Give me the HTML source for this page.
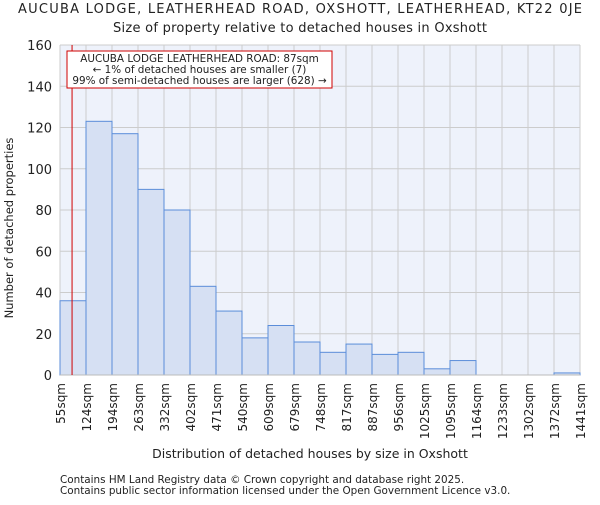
<!DOCTYPE html>
<html><head><meta charset="utf-8"><style>
body{margin:0;background:#fff;}
svg text{font-family:"DejaVu Sans","Liberation Sans",sans-serif;fill:#222;}
</style></head><body>
<svg id="chart" width="600" height="500" viewBox="0 0 600 500">
<text x="300" y="13" text-anchor="middle" font-size="13" textLength="564" lengthAdjust="spacing">AUCUBA LODGE, LEATHERHEAD ROAD, OXSHOTT, LEATHERHEAD, KT22 0JE</text>
<text x="300" y="32" text-anchor="middle" font-size="13" textLength="374" lengthAdjust="spacing">Size of property relative to detached houses in Oxshott</text>
<rect x="60" y="45" width="520" height="330" fill="#eef2fb"/>
<g id="grid"></g><g id="bars"></g><g id="axes"></g>
<text transform="translate(13,228) rotate(-90)" text-anchor="middle" font-size="11.5">Number of detached properties</text>
<text x="310" y="458" text-anchor="middle" font-size="12.5">Distribution of detached houses by size in Oxshott</text>
<text x="60" y="483" font-size="10.4">Contains HM Land Registry data © Crown copyright and database right 2025.</text>
<text x="60" y="494" font-size="10.4">Contains public sector information licensed under the Open Government Licence v3.0.</text>
</svg>
<script>
const binLabels=["55sqm","124sqm","194sqm","263sqm","332sqm","402sqm","471sqm","540sqm","609sqm","679sqm","748sqm","817sqm","887sqm","956sqm","1025sqm","1095sqm","1164sqm","1233sqm","1302sqm","1372sqm","1441sqm"];
const binEdges=[55,124,194,263,332,402,471,540,609,679,748,817,887,956,1025,1095,1164,1233,1302,1372,1441];
const counts=[36,123,117,90,80,43,31,18,24,16,11,15,10,11,3,7,0,0,0,1];
const yTicks=[0,20,40,60,80,100,120,140,160];
const propertySize=87;
const NS="http://www.w3.org/2000/svg";
const L=60,R=580,T=45,B=375,yMax=160;
const n=binEdges.length-1, bw=(R-L)/n;
function xi(i){return L+i*bw;}
function xv(v){for(let i=0;i<n;i++){if(v<=binEdges[i+1])return xi(i)+(v-binEdges[i])/(binEdges[i+1]-binEdges[i])*bw;}return R;}
function y(v){return B-v/yMax*(B-T);}
function mk(t,a,p){const e=document.createElementNS(NS,t);for(const k in a)e.setAttribute(k,a[k]);p.appendChild(e);return e;}
const grid=document.getElementById('grid'),bars=document.getElementById('bars'),axes=document.getElementById('axes');
yTicks.forEach(v=>{
 const g=mk('line',{x1:L,x2:R,y1:y(v),y2:y(v),stroke:'#cccccc','stroke-width':1},grid);
 
 
 const t=mk('text',{x:L-8,y:y(v)+5,'text-anchor':'end','font-size':13},axes);
 t.textContent=v;
 
 
});
binLabels.forEach((s,i)=>{
 const g=mk('line',{x1:xi(i),x2:xi(i),y1:T,y2:B,stroke:'#cccccc','stroke-width':1},grid);
 
 
 const t=mk('text',{transform:`translate(${xi(i)+5},383) rotate(-90)`,'text-anchor':'end','font-size':12},axes);
 t.textContent=s;
 
 
});
counts.forEach((c,i)=>{
 const r=mk('rect',{x:xi(i),y:y(c),width:bw,height:B-y(c),fill:'#d6e0f3',stroke:'#5b8dd9','stroke-width':1},bars);
 
 
});
const ax=mk('line',{x1:L,x2:R,y1:B,y2:B,stroke:'#bbbbbb'},axes);


const px=xv(propertySize);
const ml=mk('line',{x1:px,x2:px,y1:T,y2:B,stroke:'#d00000','stroke-width':1},axes);


const box=mk('rect',{x:67,y:51,width:265,height:37,fill:'#fff',stroke:'#d00000','stroke-width':1},axes);


["AUCUBA LODGE LEATHERHEAD ROAD: 87sqm","← 1% of detached houses are smaller (7)","99% of semi-detached houses are larger (628) →"].forEach((s,i)=>{
 const t=mk('text',{x:199.5,y:62+i*11,'text-anchor':'middle','font-size':10.4},axes);
 t.textContent=s;
 
 
});
</script>
</body></html>
